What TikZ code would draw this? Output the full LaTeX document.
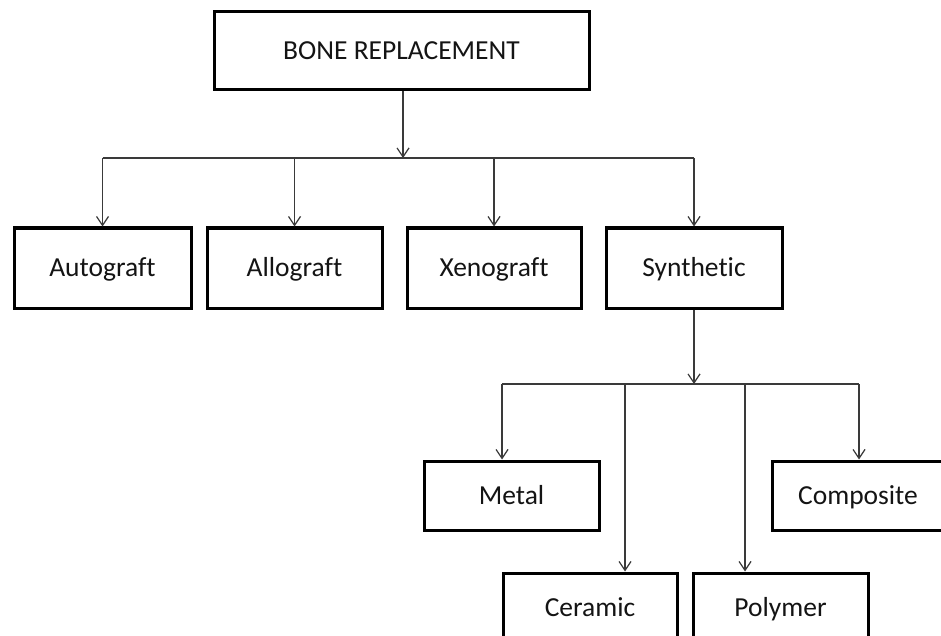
\documentclass[tikz,border=0pt]{standalone}
\usepackage{fontspec}
\setmainfont{Carlito}[Ligatures={NoCommon,NoContextual}]
\usetikzlibrary{arrows.meta}
\definecolor{txt}{HTML}{141414}
\definecolor{conn}{HTML}{3A3A3A}
\tikzset{
  box/.style={draw=black, line width=3pt, fill=white, inner sep=0pt,
    font=\fontsize{27.5}{32}\selectfont, text=txt, anchor=center,
    text height=17.6pt, text depth=0pt},
  conline/.style={draw=conn, line width=1.2pt},
  conarrow/.style={conline, -{Straight Barb[length=9pt,width=12pt,line width=1.2pt]}},
}
\begin{document}
\begin{tikzpicture}[x=1pt,y=-1pt]
\useasboundingbox[fill=white] (0,0) rectangle (941,636);
% level 0
\node[box, minimum width=375pt, minimum height=78pt] (root) at (401.5,51) {BONE REPLACEMENT};
% level 1
\node[box, minimum width=177pt, minimum height=80pt] (auto) at (102.5,268) {Autograft};
\node[box, minimum width=175pt, minimum height=80pt] (allo) at (294.5,268) {Allograft};
\node[box, minimum width=174pt, minimum height=80pt] (xeno) at (494,268) {Xenograft};
\node[box, minimum width=176pt, minimum height=80pt] (syn) at (694,268) {Synthetic};
% level 2
\node[box, minimum width=175pt, minimum height=69pt] (metal) at (511.5,495.5) {Metal};
\node[box, minimum width=172pt, minimum height=69pt] (comp) at (858,495.5) {Composite};
\node[box, minimum width=174pt, minimum height=69pt] (cer) at (590,607.5) {Ceramic};
\node[box, minimum width=175pt, minimum height=69pt] (poly) at (780.5,607.5) {Polymer};
% bus coordinates
\coordinate (bus1) at (403,158);
\coordinate (bus2) at (694,384);
\coordinate (dmetal) at (502,384);
\coordinate (dcer) at (625,384);
\coordinate (dpoly) at (745,384);
\coordinate (dcomp) at (859,384);
% connectors level 1
\draw[conarrow] (root.south -| bus1) -- (bus1);
\draw[conline] (auto.north |- bus1) -- (syn.north |- bus1);
\draw[conarrow] (auto.north |- bus1) -- (auto.north);
\draw[conarrow] (allo.north |- bus1) -- (allo.north);
\draw[conarrow] (xeno.north |- bus1) -- (xeno.north);
\draw[conarrow] (syn.north |- bus1) -- (syn.north);
% connectors level 2
\draw[conarrow] (syn.south) -- (bus2);
\draw[conline] (dmetal) -- (dcomp);
\draw[conarrow] (dmetal) -- (dmetal |- metal.north);
\draw[conarrow] (dcer) -- (dcer |- cer.north);
\draw[conarrow] (dpoly) -- (dpoly |- poly.north);
\draw[conarrow] (dcomp) -- (dcomp |- comp.north);
\end{tikzpicture}
\end{document}
